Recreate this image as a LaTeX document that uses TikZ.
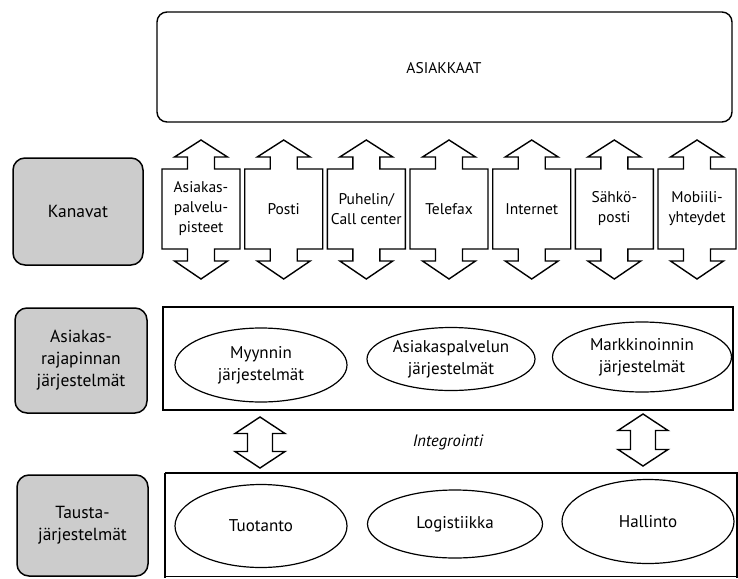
\documentclass[tikz,border=0pt]{standalone}
\usepackage{fontspec}
\setmainfont{PT Sans}
\usetikzlibrary{shapes.geometric}
\begin{document}
\begin{tikzpicture}[x=1pt,y=-1pt,
  chanarrow/.style={draw, line width=1.4pt, fill=white, line join=miter},
  intarrow/.style={draw, line width=1.4pt, fill=white, line join=miter},
  grouplabel/.style={draw, line width=1.5pt, rounded corners=12pt, fill=black!20,
    align=center, inner sep=0pt, font=\fontsize{17.5}{22}\selectfont},
  sysell/.style={ellipse, draw, line width=1.2pt, align=center, inner sep=0pt,
    font=\fontsize{17}{22}\selectfont},
  chantext/.style={align=center, inner sep=0pt, font=\fontsize{15.5}{20}\selectfont},
  layerbox/.style={draw, line width=1.5pt}
]
\useasboundingbox (0,0) rectangle (738,578);
\fill[white] (0,0) rectangle (738,578);

% customers
\draw[line width=1.4pt, rounded corners=10pt] (157,12) rectangle (732,122);
\node[font=\fontsize{15.5}{18}\selectfont] (asiakkaat) at (444,68) {ASIAKKAAT};

% left labels
\node[grouplabel, minimum width=130pt, minimum height=107pt] (kanavat) at (78,211.5) {Kanavat};
\node[grouplabel, minimum width=132pt, minimum height=105pt] (rajapinta) at (81,360.5) {Asiakas-\\rajapinnan\\järjestelmät};
\node[grouplabel, minimum width=131pt, minimum height=101pt] (tausta) at (82.5,525.5) {Tausta-\\järjestelmät};

% channels
\foreach \cx/\nm/\txt in {201/c1/{Asiakas-\\palvelu-\\pisteet}, 283.7/c2/{Posti},
   366.3/c3/{Puhelin/\\Call center}, 449/c4/{Telefax}, 531.7/c5/{Internet},
   614.3/c6/{Sähkö-\\posti}, 697/c7/{Mobiili-\\yhteydet}} {
  \draw[chanarrow] (\cx,140) -- (\cx+26.5,157) -- (\cx+13.5,157) -- (\cx+13.5,169)
    -- (\cx+39,169) -- (\cx+39,249) -- (\cx+13.5,249) -- (\cx+13.5,261)
    -- (\cx+26.5,261) -- (\cx,279) -- (\cx-26.5,261) -- (\cx-13.5,261)
    -- (\cx-13.5,249) -- (\cx-39,249) -- (\cx-39,169) -- (\cx-13.5,169)
    -- (\cx-13.5,157) -- (\cx-26.5,157) -- cycle;
  \node[chantext] (\nm) at (\cx,209) {\txt};
}

% customer interface layer
\draw[line width=2.4pt] (163,307) rectangle (733,410);
\node[sysell, minimum width=172pt, minimum height=74pt] (myynti) at (261,365) {Myynnin\\järjestelmät};
\node[sysell, minimum width=168pt, minimum height=63pt] (aspa) at (451,359) {Asiakaspalvelun\\järjestelmät};
\node[sysell, minimum width=179pt, minimum height=70pt] (markk) at (642,357) {Markkinoinnin\\järjestelmät};

% integration arrows
\foreach \cx/\ty/\by in {260/417/468, 643/414/466} {
  \draw[intarrow] (\cx,\ty) -- (\cx+25,\ty+16.5) -- (\cx+12.5,\ty+16.5)
    -- (\cx+12.5,\by-16.5) -- (\cx+25,\by-16.5) -- (\cx,\by)
    -- (\cx-25,\by-16.5) -- (\cx-12.5,\by-16.5) -- (\cx-12.5,\ty+16.5)
    -- (\cx-25,\ty+16.5) -- cycle;
}
\node[font=\itshape\fontsize{16.5}{20}\selectfont] (integrointi) at (448,442) {Integrointi};

% back-end layer
\draw[layerbox] (165,473) -- (738,473);
\draw[layerbox] (165,473) -- (165,578);
\draw[layerbox] (165,576.5) -- (738,576.5);
\draw[layerbox] (737,473) -- (737,578);
\node[sysell, minimum width=172pt, minimum height=83pt] (tuotanto) at (261,526) {Tuotanto};
\node[sysell, minimum width=175pt, minimum height=68pt] (logistiikka) at (455,524) {Logistiikka};
\node[sysell, minimum width=172pt, minimum height=84pt] (hallinto) at (648,521.5) {Hallinto};
\end{tikzpicture}
\end{document}
